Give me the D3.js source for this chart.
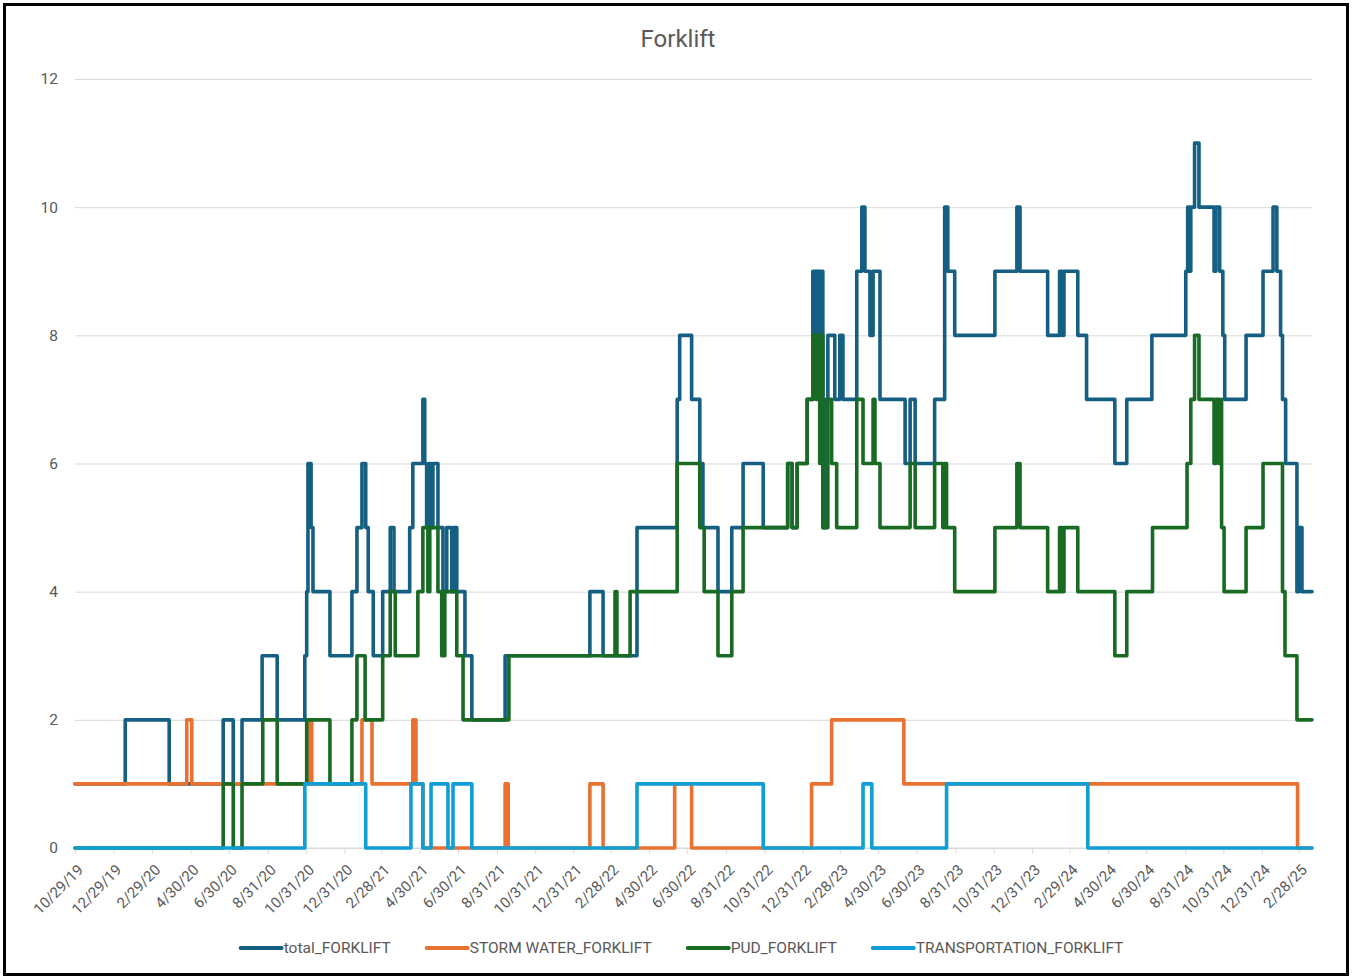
<!DOCTYPE html>
<html><head><meta charset="utf-8">
<script src="https://cdn.jsdelivr.net/npm/d3@7"></script>
<style>
body{margin:0;background:#fff}
svg{display:block}
text{font-family:Roboto,"Open Sans",Arial,sans-serif;fill:#595959}
</style>
</head><body>
<svg id="chart" width="1352" height="978"></svg>
<script>
// ---- data (x = days since start date, y = count; step changes) ----
const startDate = "2019-10-29";
const endDay = 1970;
const seriesNames = ["total_FORKLIFT","STORM WATER_FORKLIFT","PUD_FORKLIFT","TRANSPORTATION_FORKLIFT"];
const seriesColors = ["#156082","#E97132","#196B24","#0F9ED5"];
const tickLabels = ["10/29/19","12/29/19","2/29/20","4/30/20","6/30/20","8/31/20","10/31/20","12/31/20","2/28/21","4/30/21","6/30/21","8/31/21","10/31/21","12/31/21","2/28/22","4/30/22","6/30/22","8/31/22","10/31/22","12/31/22","2/28/23","4/30/23","6/30/23","8/31/23","10/31/23","12/31/23","2/29/24","4/30/24","6/30/24","8/31/24","10/31/24","12/31/24","2/28/25"];
const yTicks = [0,2,4,6,8,10,12];

const totalSteps = [[0,1],[80,2],[150,1],[236,2],[252,1],[266,2],[298,3],[322,2],[366,3],[369,4],
[371,6],[376,5],[379,4],[406,3],[441,4],[449,5],[457,6],[463,5],[467,4],[475,3],
[490,4],[502,5],[508,4],[533,5],[538,6],[554,7],[557,6],[560,5],[564,6],[567,5],
[570,6],[578,5],[586,4],[592,5],[600,4],[603,5],[608,4],[621,3],
[632,2],[685,3],[820,4],[841,3],[895,5],[959,7],[963,8],[982,7],[995,6],[1000,5],
[1024,4],[1046,5],[1064,6],[1096,5],[1135,6],[1142,5],[1150,6],[1166,7],[1175,9],[1180,8],
[1181,9],[1185,7],[1186,9],[1191,5],[1196,7],[1199,8],[1210,7],[1218,8],[1223,7],[1245,9],
[1253,10],[1258,9],[1266,8],[1271,9],[1282,7],[1322,6],[1330,7],[1338,6],[1369,7],[1385,10],
[1390,9],[1401,8],[1465,9],[1500,10],[1505,9],[1549,8],[1568,9],[1572,8],[1575,9],[1597,8],
[1611,7],[1656,6],[1675,7],[1715,8],[1769,9],[1772,10],[1775,9],[1777,10],[1783,11],[1790,10],
[1814,9],[1817,10],[1823,9],[1828,8],[1831,7],[1865,8],[1892,9],[1908,10],[1914,9],[1920,8],
[1923,7],[1928,6],[1946,4],[1949,5],[1954,4]];

const stormSteps = [[0,1],[178,2],[186,1],[373,2],[377,1],[457,2],[473,1],[538,2],[543,1],[554,0],
[685,1],[690,0],[820,1],[841,0],[955,1],[982,0],[1173,1],[1205,2],[1320,1],[1947,0]];

const pudSteps = [[0,0],[236,1],[252,0],[266,1],[299,2],[322,1],[369,2],[406,1],[441,2],[449,3],
[462,2],[490,3],[502,4],[510,3],[546,4],[554,5],[562,4],[565,5],[578,4],[584,3],
[589,4],[608,3],[618,2],[691,3],[860,4],[863,3],[884,4],[959,6],[995,5],[1002,4],
[1024,3],[1046,4],[1064,5],[1135,6],[1142,5],[1150,6],[1166,7],[1175,8],[1180,7],[1181,8],
[1186,6],[1188,8],[1191,5],[1199,7],[1205,6],[1213,5],[1245,7],[1255,6],[1271,7],[1274,6],
[1282,5],[1330,6],[1338,5],[1369,6],[1382,5],[1385,6],[1388,5],[1401,4],[1465,5],[1500,6],
[1505,5],[1549,4],[1568,5],[1572,4],[1575,5],[1597,4],[1656,3],[1675,4],[1716,5],[1771,6],
[1777,7],[1783,8],[1790,7],[1814,6],[1817,7],[1822,6],[1825,7],[1826,5],[1830,4],[1865,5],
[1892,6],[1923,4],[1927,3],[1946,2]];

const transSteps = [[0,0],[366,1],[463,0],[535,1],[554,0],[567,1],[594,0],[602,1],[632,0],[895,1],
[1096,0],[1255,1],[1269,0],[1388,1],[1613,0]];

// ---- chart ----
const svg = d3.select("#chart");
const W = 1352, H = 978;
const plot = {left:75, right:1312, top:79, bottom:848};
const parse = d3.timeParse("%Y-%m-%d");
const parseTick = d3.timeParse("%m/%d/%y");
const t0 = parse(startDate);
const toDate = d => d3.timeDay.offset(t0, d);

const x = d3.scaleTime().domain([t0, toDate(endDay)]).range([plot.left, plot.right]);
const y = d3.scaleLinear().domain([0,12]).range([plot.bottom, plot.top]);

svg.append("rect").attr("x",0).attr("y",0).attr("width",W).attr("height",H).attr("fill","#fff");
svg.append("rect").attr("x",4.5).attr("y",4.5).attr("width",W-9).attr("height",H-8)
  .attr("fill","none").attr("stroke","#000").attr("stroke-width",3);

svg.append("text").attr("x",678).attr("y",47).attr("text-anchor","middle")
  .style("font-size","24px").text("Forklift");

// gridlines + y labels
const yAxis = d3.axisLeft(y).tickValues(yTicks).tickSize(-(plot.right-plot.left)).tickPadding(17).tickFormat(d3.format("d"));
const gy = svg.append("g").attr("transform",`translate(${plot.left},0)`).call(yAxis);
gy.select(".domain").remove();
gy.selectAll(".tick line").attr("stroke","#d9d9d9").attr("stroke-width",1);
gy.selectAll(".tick text").style("font-size","15.5px").attr("fill","#595959");

// x axis
const tickDates = tickLabels.map(parseTick);
const xAxis = d3.axisBottom(x).tickValues(tickDates).tickSize(6).tickFormat((d,i)=>tickLabels[i]);
const gx = svg.append("g").attr("transform",`translate(0,${plot.bottom})`).call(xAxis);
gx.select(".domain").attr("stroke","#d9d9d9").attr("d",`M${plot.left},0H${plot.right}`);
gx.selectAll(".tick line").attr("stroke","#d9d9d9");
gx.selectAll(".tick text")
  .style("font-size","15px").attr("fill","#595959")
  .attr("text-anchor","end")
  .attr("transform","translate(5,19) rotate(-45)")
  .attr("x",0).attr("y",0).attr("dy","0.35em");

// lines
const stepsList = [totalSteps, stormSteps, pudSteps, transSteps];
const line = d3.line().x(d=>x(toDate(d[0]))).y(d=>y(d[1])).curve(d3.curveStepAfter);
stepsList.forEach((s,i)=>{
  const pts = s.concat([[endDay, s[s.length-1][1]]]);
  svg.append("path").datum(pts).attr("d",line)
    .attr("fill","none").attr("stroke",seriesColors[i]).attr("stroke-width",3.6)
    .attr("stroke-linejoin","round").attr("stroke-linecap","round");
});

// legend
const lg = svg.append("g").attr("transform","translate(0,948)");
let cx = 0;
const items = [];
seriesNames.forEach((n,i)=>{
  const g = lg.append("g");
  g.append("line").attr("x1",0).attr("x2",41).attr("y1",0).attr("y2",0)
    .attr("stroke",seriesColors[i]).attr("stroke-width",4).attr("stroke-linecap","round");
  const t = g.append("text").attr("x",43).attr("y",0).attr("dy","0.35em").style("font-size","15.5px").text(n);
  const w = 43 + t.node().getComputedTextLength();
  items.push({g,w});
});
const gap = 36;
const totalW = d3.sum(items,d=>d.w) + gap*(items.length-1);
cx = 682 - totalW/2;
items.forEach(it=>{ it.g.attr("transform",`translate(${cx},0)`); cx += it.w + gap; });
</script>
</body></html>
